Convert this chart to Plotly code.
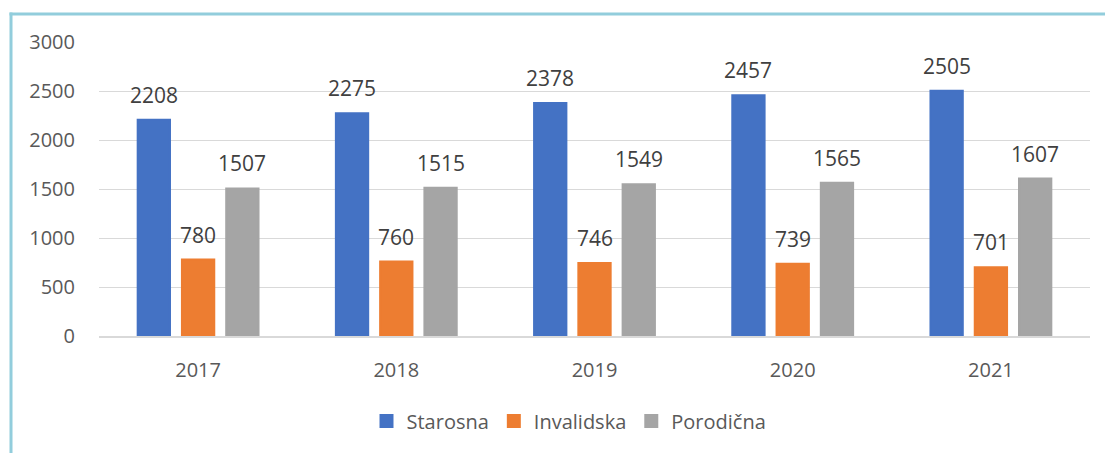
import plotly.graph_objects as go

years = ["2017", "2018", "2019", "2020", "2021"]
series_names = ["Starosna", "Invalidska", "Porodična"]
starosna = [2208, 2275, 2378, 2457, 2505]
invalidska = [780, 760, 746, 739, 701]
porodicna = [1507, 1515, 1549, 1565, 1607]
colors = ["#4472C4", "#ED7D31", "#A5A5A5"]
y_ticks = [0, 500, 1000, 1500, 2000, 2500, 3000]

series_values = [starosna, invalidska, porodicna]

L, R, T, B = 99, 15, 42, 117
W, H = 1105, 453
pw, ph = W - L - R, H - T - B
FONT = "Open Sans"
BARGAP = 0.33

fig = go.Figure()
for name, vals, col in zip(series_names, series_values, colors):
    fig.add_trace(go.Bar(x=years, y=vals, name=name,
                         marker=dict(color=col, line=dict(width=2, color=col))))

slot = pw / len(years) * (1 - BARGAP) / 3
annotations = []
for i, vals in enumerate(series_values):
    for j, v in enumerate(vals):
        annotations.append(dict(x=j, y=v, text=str(v), showarrow=False, xref="x", yref="y",
                                yanchor="bottom", yshift=9, xshift=(i - 1) * slot,
                                font=dict(family=FONT, size=21, color="#404040")))

def px(x):
    return (x - L) / pw

def py(y):
    return (H - B - y) / ph

border = "#92CDDC"
shapes = [
    dict(type="line", xref="paper", yref="paper", x0=px(9.5), x1=px(1110), y0=py(14), y1=py(14),
         line=dict(color=border, width=3)),
    dict(type="line", xref="paper", yref="paper", x0=px(11), x1=px(11), y0=py(12.5), y1=py(460),
         line=dict(color=border, width=3)),
]

fig.update_layout(
    width=W, height=H,
    margin=dict(l=L, r=R, t=T, b=B, autoexpand=False),
    paper_bgcolor="white", plot_bgcolor="white",
    barmode="group", bargap=BARGAP, bargroupgap=0.27,
    font=dict(family=FONT, size=20, color="#595959"),
    annotations=annotations,
    shapes=shapes,
    showlegend=True,
    legend=dict(orientation="h", x=px(569), xanchor="center", y=py(421), yanchor="middle",
                font=dict(family=FONT, size=20, color="#595959"), itemwidth=30,
                bgcolor="rgba(0,0,0,0)"),
    xaxis=dict(type="category", range=[-0.5, len(years) - 0.5], showgrid=False, showline=True,
               linecolor="#D9D9D9", linewidth=1.5,
               ticks="", ticklabelstandoff=15, tickfont=dict(size=20)),
    yaxis=dict(range=[0, 3002], tickvals=y_ticks, showgrid=True, gridcolor="#D9D9D9", gridwidth=1,
               zeroline=False, showline=False, ticks="", ticklabelstandoff=23,
               tickfont=dict(size=20)),
)

fig.write_html("out.html", config={"displayModeBar": False},
               post_script="document.body.style.margin='0px';")
